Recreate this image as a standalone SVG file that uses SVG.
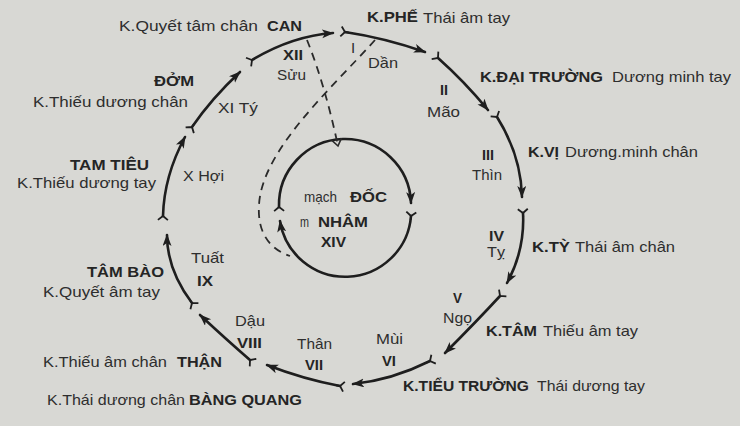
<svg xmlns="http://www.w3.org/2000/svg" width="740" height="426" viewBox="0 0 740 426">
<defs>
<style>
text{font-family:"Liberation Sans",Arial,sans-serif;font-size:15px;fill:#2e2e2e}
.b{font-weight:700;fill:#252525}
.seg{fill:none;stroke:#1e1e1e;stroke-width:2.6;stroke-linecap:round;marker-start:url(#tail);marker-end:url(#head)}
.dash{fill:none;stroke:#2a2a2a;stroke-width:1.8;stroke-dasharray:8 6}
</style>
<marker id="head" markerUnits="userSpaceOnUse" markerWidth="14" markerHeight="10" refX="11" refY="4.5" orient="auto">
<path d="M0,0 L12,4.5 L0,9 L3,4.5 z" fill="#1e1e1e"/>
</marker>
<marker id="tail" markerUnits="userSpaceOnUse" markerWidth="10" markerHeight="12" refX="5" refY="6" orient="auto">
<path d="M1,1 L5,6 L1,11 M5,6 L9,6" fill="none" stroke="#1e1e1e" stroke-width="1.8"/>
</marker>
<marker id="vopen" markerUnits="userSpaceOnUse" markerWidth="12" markerHeight="12" refX="9" refY="6" orient="auto">
<path d="M2,1 L9,6 L2,11" fill="none" stroke="#2a2a2a" stroke-width="1.6"/>
</marker>
</defs>
<rect width="740" height="426" fill="#d8d8d4"/>
<g id="connectors">
<path class="seg" d="M345,32 Q385,38 425,52"/>
<path class="seg" d="M438,58 Q464,81 488,110"/>
<path class="seg" d="M497,117 Q521,155 522,197"/>
<path class="seg" d="M523,213 Q525,250 507,283"/>
<path class="seg" d="M500,296 Q476,322 445,353"/>
<path class="seg" d="M430,361 Q392,380 353,384"/>
<path class="seg" d="M340,386 Q303,379 267,365"/>
<path class="seg" d="M250,360 Q228,341 200,315"/>
<path class="seg" d="M192,303 Q167,270 167,235"/>
<path class="seg" d="M163,216 Q164,176 185,137"/>
<path class="seg" d="M192,127 Q212,98 240,72"/>
<path class="seg" d="M252,60 Q292,36 333,33"/>
<path class="seg" d="M279,207 A66,66 0 0 1 411,203"/>
<path class="seg" d="M411,216 A66,66 0 0 1 280,221"/>
<path class="dash" d="M307,40 Q325,85 338,146" marker-end="url(#vopen)"/>
<path class="dash" d="M375,40 C330,90 262,150 259,205 C257,235 272,250 290,256"/>
</g>
<g id="can"><text x="119" y="31" textLength="139" lengthAdjust="spacingAndGlyphs">K.Quyết tâm chân</text><text class="b" x="267" y="31" textLength="35" lengthAdjust="spacingAndGlyphs">CAN</text><text class="b" x="283" y="60" textLength="20" lengthAdjust="spacingAndGlyphs">XII</text><text x="277" y="80" textLength="29" lengthAdjust="spacingAndGlyphs">Sửu</text></g>
<g id="phe"><text class="b" x="367" y="22" textLength="51" lengthAdjust="spacingAndGlyphs">K.PHẾ</text><text x="423" y="23" textLength="87" lengthAdjust="spacingAndGlyphs">Thái âm tay</text><text x="351" y="53">I</text><text x="368" y="68" textLength="30" lengthAdjust="spacingAndGlyphs">Dần</text></g>
<g id="dom"><text class="b" x="154" y="86" textLength="40" lengthAdjust="spacingAndGlyphs">ĐỞM</text><text x="33" y="107" textLength="155" lengthAdjust="spacingAndGlyphs">K.Thiếu dương chân</text><text x="218" y="113" textLength="40" lengthAdjust="spacingAndGlyphs">XI Tý</text></g>
<g id="dai-truong"><text class="b" x="480" y="82" textLength="123" lengthAdjust="spacingAndGlyphs">K.ĐẠI TRƯỜNG</text><text x="612" y="82" textLength="119" lengthAdjust="spacingAndGlyphs">Dương minh tay</text><text class="b" x="440" y="95" textLength="8" lengthAdjust="spacingAndGlyphs">II</text><text x="427" y="117" textLength="33" lengthAdjust="spacingAndGlyphs">Mão</text></g>
<g id="vi"><text class="b" x="482" y="160" textLength="12" lengthAdjust="spacingAndGlyphs">III</text><text x="472" y="180" textLength="30" lengthAdjust="spacingAndGlyphs">Thìn</text><text class="b" x="528" y="157" textLength="31" lengthAdjust="spacingAndGlyphs">K.VỊ</text><text x="565" y="157" textLength="133" lengthAdjust="spacingAndGlyphs">Dương.minh chân</text></g>
<g id="tam-tieu"><text class="b" x="70" y="170" textLength="79" lengthAdjust="spacingAndGlyphs">TAM TIÊU</text><text x="17" y="188" textLength="139" lengthAdjust="spacingAndGlyphs">K.Thiếu dương tay</text><text x="183" y="181" textLength="41" lengthAdjust="spacingAndGlyphs">X Hợi</text></g>
<g id="doc-nham"><text x="304" y="202" textLength="33" lengthAdjust="spacingAndGlyphs">mạch</text><text class="b" x="350" y="202" textLength="37" lengthAdjust="spacingAndGlyphs">ĐỐC</text><text x="300" y="227" textLength="9" lengthAdjust="spacingAndGlyphs">m</text><text class="b" x="318" y="227" textLength="50" lengthAdjust="spacingAndGlyphs">NHÂM</text><text class="b" x="321" y="247" textLength="25" lengthAdjust="spacingAndGlyphs">XIV</text></g>
<g id="ty"><text class="b" x="489" y="241" textLength="15" lengthAdjust="spacingAndGlyphs">IV</text><text x="487" y="257" textLength="18" lengthAdjust="spacingAndGlyphs">Tỵ</text><text class="b" x="532" y="252" textLength="38" lengthAdjust="spacingAndGlyphs">K.TỲ</text><text x="575" y="252" textLength="100" lengthAdjust="spacingAndGlyphs">Thái âm chân</text></g>
<g id="tam"><text class="b" x="453" y="303" textLength="9" lengthAdjust="spacingAndGlyphs">V</text><text x="443" y="323" textLength="29" lengthAdjust="spacingAndGlyphs">Ngọ</text><text class="b" x="486" y="336" textLength="51" lengthAdjust="spacingAndGlyphs">K.TÂM</text><text x="543" y="336" textLength="95" lengthAdjust="spacingAndGlyphs">Thiếu âm tay</text></g>
<g id="tieu-truong"><text x="376" y="344" textLength="27" lengthAdjust="spacingAndGlyphs">Mùi</text><text class="b" x="382" y="366" textLength="14" lengthAdjust="spacingAndGlyphs">VI</text><text class="b" x="403" y="391" textLength="126" lengthAdjust="spacingAndGlyphs">K.TIỂU TRƯỜNG</text><text x="537" y="391" textLength="108" lengthAdjust="spacingAndGlyphs">Thái dương tay</text></g>
<g id="bang-quang"><text x="297" y="349" textLength="35" lengthAdjust="spacingAndGlyphs">Thân</text><text class="b" x="305" y="370" textLength="18" lengthAdjust="spacingAndGlyphs">VII</text><text x="47" y="405" textLength="138" lengthAdjust="spacingAndGlyphs">K.Thái dương chân</text><text class="b" x="189" y="405" textLength="113" lengthAdjust="spacingAndGlyphs">BÀNG QUANG</text></g>
<g id="than"><text x="235" y="326" textLength="30" lengthAdjust="spacingAndGlyphs">Dậu</text><text class="b" x="237" y="348" textLength="25" lengthAdjust="spacingAndGlyphs">VIII</text><text x="43" y="367" textLength="124" lengthAdjust="spacingAndGlyphs">K.Thiếu âm chân</text><text class="b" x="177" y="367" textLength="45" lengthAdjust="spacingAndGlyphs">THẬN</text></g>
<g id="tam-bao"><text x="191" y="263" textLength="33" lengthAdjust="spacingAndGlyphs">Tuất</text><text class="b" x="197" y="286" textLength="16" lengthAdjust="spacingAndGlyphs">IX</text><text class="b" x="87" y="277" textLength="77" lengthAdjust="spacingAndGlyphs">TÂM BÀO</text><text x="43" y="297" textLength="117" lengthAdjust="spacingAndGlyphs">K.Quyết âm tay</text></g>
</svg>
